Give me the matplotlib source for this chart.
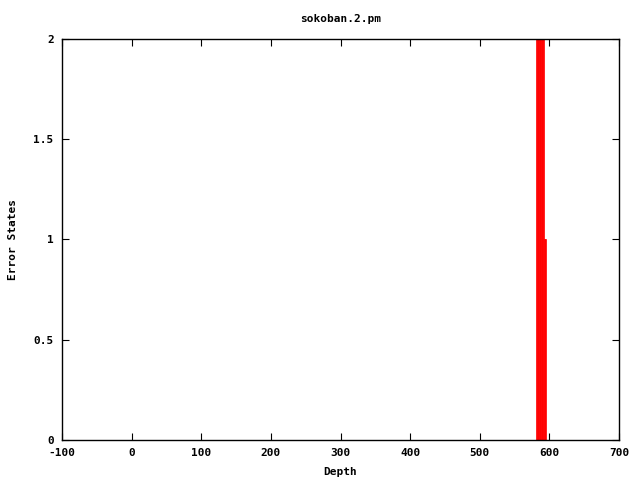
import matplotlib
matplotlib.use("Agg")
import matplotlib.pyplot as plt

# Data (error states per depth)
depths = [581, 582, 583, 584, 585, 586, 587, 588, 589, 590, 591, 592, 593, 594]
errors = [2, 2, 2, 2, 2, 2, 2, 2, 2, 2, 2, 1, 1, 1]

xticks = [-100, 0, 100, 200, 300, 400, 500, 600, 700]
yticks = [0, 0.5, 1, 1.5, 2]
ytick_labels = ["0", "0.5", "1", "1.5", "2"]

plt.rcParams['font.family'] = ['DejaVu Sans Mono']
plt.rcParams['font.weight'] = 'bold'
plt.rcParams['font.size'] = 8
plt.rcParams['axes.unicode_minus'] = False

fig = plt.figure(figsize=(6.4, 4.8), dpi=100)
ax = fig.add_axes([62 / 640, 1 - 440 / 480, (619 - 62) / 640, (440 - 39) / 480])

ax.bar(depths, errors, width=1.0, align='edge', color='#ff0000', edgecolor='#ff0000', linewidth=0.5)

ax.set_xlim(-100, 700)
ax.set_ylim(0, 2)
ax.set_xticks(xticks)
ax.set_yticks(yticks)
ax.set_yticklabels(ytick_labels)
ax.tick_params(direction='in', top=True, right=True, length=5, width=0.8, pad=6)
for s in ax.spines.values():
    s.set_linewidth(1.0)

ax.set_title('sokoban.2.pm', fontsize=8, fontweight='bold', pad=12)
ax.set_xlabel('Depth', fontweight='bold', labelpad=6)
ax.set_ylabel('Error States', fontweight='bold', labelpad=11)

fig.savefig('out.png', dpi=100)
